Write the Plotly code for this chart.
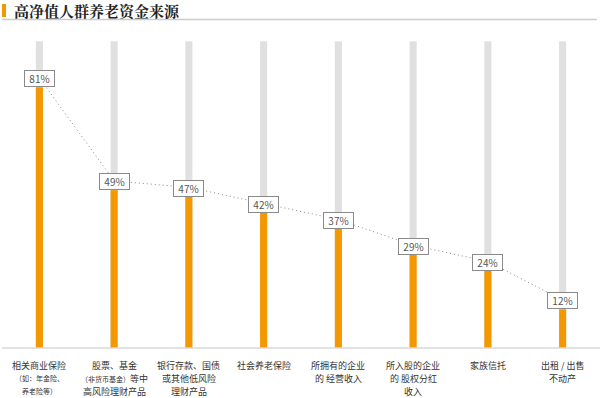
import plotly.graph_objects as go

categories = ["相关商业保险", "股票、基金", "银行存款、国债", "社会养老保险",
              "所拥有的企业", "所入股的企业", "家族信托", "出租 / 出售"]
label_lines = [
    ["相关商业保险", "<span style='font-size:7px'>（如：年金险、</span>", "<span style='font-size:7px'>养老险等）</span>"],
    ["股票、基金", "<span style='font-size:7px'>（非货币基金）</span>等中", "高风险理财产品"],
    ["银行存款、国债", "或其他低风险", "理财产品"],
    ["社会养老保险"],
    ["所拥有的企业", "的 经营收入"],
    ["所入股的企业", "的 股权分红", "收入"],
    ["家族信托"],
    ["出租 / 出售", "不动产"],
]
values = [81, 49, 47, 42, 37, 29, 24, 12]
background_value = 95.3
title = "高净值人群养老资金来源"

x = list(range(len(values)))
FONT = "Noto Sans CJK SC"

fig = go.Figure()
fig.add_trace(go.Bar(x=x, y=[background_value] * len(values), width=0.095,
                     marker=dict(color="#e0e0e0", line=dict(width=0)), hoverinfo="skip"))
fig.add_trace(go.Bar(x=x, y=values, width=0.095,
                     marker=dict(color="#f39800", line=dict(width=0)), hoverinfo="skip"))
fig.add_trace(go.Scatter(x=x, y=[v + 2.9 for v in values], mode="lines",
                         line=dict(color="#888888", width=1, dash="1px,3px"), hoverinfo="skip"))

for xi, v in zip(x, values):
    fig.add_annotation(x=xi, y=v, text=f"{v}%", showarrow=False, yanchor="bottom",
                       bgcolor="white", bordercolor="#8a8a8a", borderwidth=1,
                       borderpad=0, width=29, height=15,
                       font=dict(family=FONT, size=10, color="#555555"))

line_shifts = [-17, -30, -43]
for xi, lines in zip(x, label_lines):
    for li, line in enumerate(lines):
        fig.add_annotation(x=xi, y=0, yref="y", text=line, showarrow=False,
                           yanchor="middle", yshift=line_shifts[li], align="center",
                           borderpad=0,
                           font=dict(family=FONT, size=9, color="#333333"))

fig.update_layout(
    width=600, height=398,
    margin=dict(l=2, r=0, t=30, b=50),
    paper_bgcolor="white", plot_bgcolor="white",
    barmode="overlay", showlegend=False,
    xaxis=dict(range=[-0.5, 7.5], showticklabels=False, showgrid=False, zeroline=False,
               showline=False, fixedrange=True),
    yaxis=dict(range=[0, 98.8], showticklabels=False, showgrid=False, zeroline=False,
               showline=False, fixedrange=True),
    shapes=[
        dict(type="line", xref="paper", yref="paper", x0=0, x1=1, y0=0, y1=0,
             line=dict(color="#d9d9d9", width=1.5)),
        dict(type="rect", xref="paper", yref="paper", x0=0, x1=4 / 598,
             y0=(348 - 17) / 318, y1=(348 - 4) / 318,
             fillcolor="#f39800", line=dict(width=0)),
        dict(type="line", xref="paper", yref="paper", x0=0, x1=595 / 598,
             y0=(348 - 19.5) / 318, y1=(348 - 19.5) / 318,
             line=dict(color="#cccccc", width=1.5)),
    ],
)
fig.add_annotation(x=10 / 598, y=(348 - 10.5) / 318, xref="paper", yref="paper",
                   text="<b>" + title + "</b>", showarrow=False, xanchor="left", yanchor="middle",
                   font=dict(family="Noto Serif CJK SC, Noto Sans CJK SC", size=15, color="#222222"))

fig.write_html("out.html")
